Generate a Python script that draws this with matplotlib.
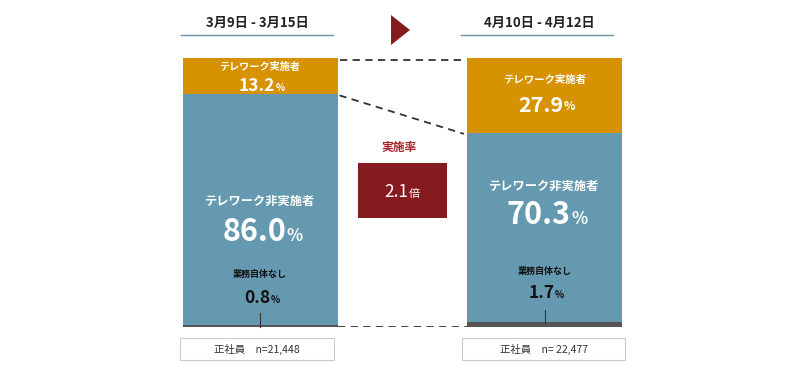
import matplotlib
matplotlib.use("Agg")
import matplotlib.pyplot as plt
from matplotlib.patches import Rectangle, Polygon

plt.rcParams['font.family'] = ['Noto Sans CJK JP', 'DejaVu Sans']

# data
periods = ['3月9日 - 3月15日', '4月10日 - 4月12日']
telework = [13.2, 27.9]
non_telework = [86.0, 70.3]
no_work = [0.8, 1.7]
sample_labels = ['正社員　n=21,448', '正社員　n= 22,477']
ratio = 2.1

orange = '#d69200'
blue = '#6499af'
gray = '#555555'
darkred = '#861b1f'

fig = plt.figure(figsize=(8, 3.7), dpi=100)

# bar axes: 0..100 % maps to pixel rows 327..58
ax = fig.add_axes([0, 43 / 370, 1, 269 / 370])
ax.set_xlim(0, 800)
ax.set_ylim(0, 100)
ax.axis('off')

xs = [260, 544.5]
w = 155
bottoms2 = [a + b for a, b in zip(no_work, non_telework)]
ax.bar(xs, no_work, width=w, color=gray, linewidth=0)
ax.bar(xs, non_telework, width=w, bottom=no_work, color=blue, linewidth=0)
ax.bar(xs, telework, width=w, bottom=bottoms2, color=orange, linewidth=0)

# dashed connectors between the bars
x0 = xs[0] + w / 2 + 2
x1 = xs[1] - w / 2 - 3
dash = dict(color='#333333', lw=1.3, ls=(0, (4, 3)))
ax.plot([x0, x1], [99.2, 99.2], **dash)
ax.plot([x0, x1], [100 - telework[0] - 0.7, 100 - telework[1] - 0.3], **dash)
ax.plot([x0 - 2, x1 + 3], [0, 0], **dash)

# overlay axes in pixel coordinates for the annotations
ov = fig.add_axes([0, 0, 1, 1], zorder=3)
ov.set_xlim(0, 800)
ov.set_ylim(370, 0)
ov.axis('off')
ov.patch.set_alpha(0)


def pct(x, y, value, fs, color):
    t = ov.text(x - fs * 0.25, y, f'{value:.1f}', fontsize=fs, color=color,
                ha='center', va='center', fontweight='bold')
    ov.annotate('%', xy=(1, 0), xycoords=t, xytext=(0.3, fs * 0.11),
                textcoords='offset points', fontsize=fs * 0.55, color=color,
                ha='left', va='bottom', fontweight='bold')


# headers
for cx, lx, label in zip([257, 539], [(181, 333), (461, 613)], periods):
    ov.text(cx, 23, label, fontsize=9.5, fontweight='bold', color='#222222',
            ha='center', va='center')
    ov.plot(lx, [35, 35], color='#6b8fa3', lw=1)

# arrow triangle
ov.add_patch(Polygon([(391, 15), (391, 45), (410, 30)], closed=True,
                     color=darkred, lw=0))

# ratio box
ov.text(399, 147, '実施率', fontsize=8.5, fontweight='bold', color='#a8262c',
        ha='center', va='center')
ov.add_patch(Rectangle((358, 163), 89, 55, color=darkred, lw=0))
t = ov.text(396, 192, f'{ratio:.1f}', fontsize=12.5, color='white',
            ha='center', va='center')
ov.annotate('倍', xy=(1, 0), xycoords=t, xytext=(0.5, 1.5),
            textcoords='offset points', fontsize=8, color='white',
            ha='left', va='bottom')

# bar labels
tele_y = [(67, 86, 7.3, 12.5), (80, 105, 7.5, 15.5)]
non_y = [(201, 232), (186, 215)]
none_y = [(274, 298, 313, 327), (271, 293, 310, 323)]
for i, cx in enumerate(xs):
    ly, vy, lfs, vfs = tele_y[i]
    ov.text(cx, ly, 'テレワーク実施者', fontsize=lfs, color='white',
            ha='center', va='center', fontweight='bold')
    pct(cx, vy, telework[i], vfs, 'white')

    ly, vy = non_y[i]
    ov.text(cx, ly, 'テレワーク非実施者', fontsize=8.8, color='white',
            ha='center', va='center', fontweight='bold')
    pct(cx, vy, non_telework[i], 22, 'white')

    ly, vy, t0, t1 = none_y[i]
    ov.text(cx, ly, '業務自体なし', fontsize=6.5, color='#111111',
            ha='center', va='center', fontweight='bold')
    pct(cx, vy, no_work[i], 12.5, '#111111')
    ov.plot([cx, cx], [t0, t1], color='#333333', lw=0.8)

# sample size boxes
for (bx0, bx1), label in zip([(180, 334), (462, 625)], sample_labels):
    ov.add_patch(Rectangle((bx0, 338), bx1 - bx0, 22, facecolor='white',
                           edgecolor='#cccccc', lw=0.8))
    ov.text((bx0 + bx1) / 2, 349, label, fontsize=7.5, color='#333333',
            ha='center', va='center')

fig.savefig('out.png', dpi=100)
